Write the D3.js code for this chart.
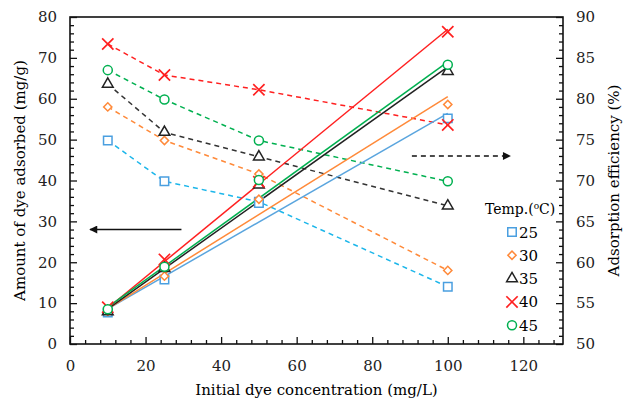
<!DOCTYPE html>
<html>
<head>
<meta charset="utf-8">
<script src="https://cdn.jsdelivr.net/npm/d3@7"></script>
<style>
  body { margin: 0; background: #fff; }
</style>
</head>
<body>
<div id="chart"></div>
<script>
// Initial concentrations (mg/L)
const conc = [10, 25, 50, 100];
const temps = ["25", "30", "35", "40", "45"];

// Adsorption efficiency (%) - right axis, dashed lines
const eff25 = [74.9, 69.9, 67.4, 57.0];
const eff30 = [79.0, 74.9, 70.8, 59.0];
const eff35 = [81.8, 75.9, 72.9, 66.9];
const eff40 = [86.7, 82.9, 81.1, 76.8];
const eff45 = [83.5, 79.9, 74.9, 69.9];

// Amount adsorbed (mg/g) - left axis, markers
const q25 = [7.7, 15.8, 34.5, 55.2];
const q30 = [8.0, 16.6, 35.4, 58.6];
const q35 = [7.9, 18.5, 38.9, 66.7];
const q40 = [9.0, 20.7, 39.7, 76.4];
const q45 = [8.5, 18.9, 40.1, 68.3];

// Solid fitted lines for amount adsorbed, values at x = 10 and x = 100
const fitX = [10, 100];
const fit25 = [8.6, 56.4];
const fit30 = [8.6, 60.5];
const fit35 = [8.6, 67.8];
const fit40 = [8.8, 77.0];
const fit45 = [9.0, 69.0];

const xTicks = [0, 20, 40, 60, 80, 100, 120];
const yLeftTicks = [0, 10, 20, 30, 40, 50, 60, 70, 80];
const yRightTicks = [50, 55, 60, 65, 70, 75, 80, 85, 90];

const series = [
  { t: temps[0], eff: eff25, q: q25, fit: fit25, sym: "square", c: "#4a9fe0", dash: "#1cb6ea", line: "#5aa5de" },
  { t: temps[1], eff: eff30, q: q30, fit: fit30, sym: "diamond", c: "#ff8a3a", dash: "#ff8a3a", line: "#ff8a3a" },
  { t: temps[2], eff: eff35, q: q35, fit: fit35, sym: "triangle", c: "#222", dash: "#333", line: "#222" },
  { t: temps[3], eff: eff40, q: q40, fit: fit40, sym: "cross", c: "#ff2020", dash: "#ff2020", line: "#ff2020" },
  { t: temps[4], eff: eff45, q: q45, fit: fit45, sym: "circle", c: "#00b050", dash: "#00b050", line: "#00b050" }
];

const W = 623, H = 402;
const margin = { top: 17, right: 60, bottom: 58, left: 70 };
const FONT = "'DejaVu Serif'";

const svg = d3.select("#chart").append("svg")
  .attr("width", W).attr("height", H)
  .attr("font-family", FONT);

const x = d3.scaleLinear().domain([0, 130.5]).range([margin.left, W - margin.right]);
const yL = d3.scaleLinear().domain([0, 80]).range([H - margin.bottom, margin.top]);
const yR = d3.scaleLinear().domain([50, 90]).range([H - margin.bottom, margin.top]);

// frame
svg.append("rect")
  .attr("x", margin.left).attr("y", margin.top)
  .attr("width", W - margin.right - margin.left)
  .attr("height", H - margin.bottom - margin.top)
  .attr("fill", "none").attr("stroke", "#111").attr("stroke-width", 1.6);

// axes with inward ticks
function styleAxis(g) {
  g.attr("font-family", FONT);
  g.select(".domain").remove();
  g.selectAll("line").attr("stroke", "#111").attr("stroke-width", 1.3);
  g.selectAll("text").style("font-size", "15px").style("font-family", FONT).attr("fill", "#222");
}

const xMinor = d3.range(0, 131, 4).filter(v => v % 20 !== 0);
svg.append("g").attr("transform", `translate(0,${H - margin.bottom})`)
  .call(d3.axisBottom(x).tickValues(xMinor).tickSize(-4).tickFormat(""))
  .call(styleAxis);
svg.append("g").attr("transform", `translate(0,${H - margin.bottom})`)
  .call(d3.axisBottom(x).tickValues(xTicks).tickSize(-7).tickPadding(16).tickFormat(d3.format("d")))
  .call(styleAxis);

const yMinor = d3.range(0, 81, 2).filter(v => v % 10 !== 0);
svg.append("g").attr("transform", `translate(${margin.left},0)`)
  .call(d3.axisLeft(yL).tickValues(yMinor).tickSize(-4).tickFormat(""))
  .call(styleAxis);
svg.append("g").attr("transform", `translate(${margin.left},0)`)
  .call(d3.axisLeft(yL).tickValues(yLeftTicks).tickSize(-7).tickPadding(13))
  .call(styleAxis);

const yRMinor = d3.range(50, 91, 1).filter(v => v % 5 !== 0);
svg.append("g").attr("transform", `translate(${W - margin.right},0)`)
  .call(d3.axisRight(yR).tickValues(yRMinor).tickSize(-4).tickFormat(""))
  .call(styleAxis);
svg.append("g").attr("transform", `translate(${W - margin.right},0)`)
  .call(d3.axisRight(yR).tickValues(yRightTicks).tickSize(-7).tickPadding(13))
  .call(styleAxis);

// axis titles
function title(sel) { return sel.style("font-size", "15px").style("font-family", FONT).attr("text-anchor", "middle"); }
svg.append("text")
  .attr("transform", `translate(25,${(margin.top + H - margin.bottom) / 2}) rotate(-90)`)
  .call(title).text("Amount of dye adsorbed (mg/g)");
svg.append("text")
  .attr("transform", `translate(619,${(margin.top + H - margin.bottom) / 2}) rotate(-90)`)
  .call(title).text("Adsorption efficiency (%)");
svg.append("text")
  .attr("x", (margin.left + W - margin.right) / 2).attr("y", 395)
  .call(title).text("Initial dye concentration (mg/L)");

// markers
const symType = {
  square: d3.symbolSquare, diamond: d3.symbolSquare, triangle: d3.symbolTriangle,
  cross: d3.symbolX, circle: d3.symbolCircle
};
const symSize = { square: 72, diamond: 34, triangle: 50, cross: 85, circle: 64 };
function marker(g, s, cx, cy) {
  g.append("path")
    .attr("d", d3.symbol().type(symType[s.sym]).size(symSize[s.sym])())
    .attr("transform", `translate(${cx},${cy})` + (s.sym === "diamond" ? " rotate(45)" : ""))
    .attr("fill", s.sym === "cross" ? "none" : "#fff")
    .attr("stroke", s.c).attr("stroke-width", s.sym === "cross" ? 1.7 : 1.5);
}

// dashed efficiency lines
const dashLine = d3.line().x((d, i) => x(conc[i])).y(d => yR(d));
series.forEach(s => {
  svg.append("path").attr("d", dashLine(s.eff))
    .attr("fill", "none").attr("stroke", s.dash)
    .attr("stroke-width", 1.5).attr("stroke-dasharray", "5,4");
});

// fitted solid lines
const fitLine = d3.line().x((d, i) => x(fitX[i])).y(d => yL(d));
series.forEach(s => {
  svg.append("path").attr("d", fitLine(s.fit))
    .attr("fill", "none").attr("stroke", s.line).attr("stroke-width", 1.5);
});

// markers on top
series.forEach(s => {
  const g = svg.append("g");
  s.eff.forEach((v, i) => marker(g, s, x(conc[i]), yR(v)));
  s.q.forEach((v, i) => marker(g, s, x(conc[i]), yL(v)));
});

// direction arrows
const defs = svg.append("defs");
defs.append("marker").attr("id", "head").attr("viewBox", "0 0 10 10")
  .attr("refX", 9).attr("refY", 5).attr("markerWidth", 10).attr("markerHeight", 8)
  .attr("markerUnits", "userSpaceOnUse").attr("orient", "auto")
  .append("path").attr("d", "M0,0 L10,5 L0,10 Z").attr("fill", "#111");

svg.append("line")
  .attr("x1", x(29.5)).attr("x2", x(5.3)).attr("y1", yL(28)).attr("y2", yL(28))
  .attr("stroke", "#111").attr("stroke-width", 1.5).attr("marker-end", "url(#head)");
svg.append("line")
  .attr("x1", x(90.5)).attr("x2", x(116.5)).attr("y1", yR(73)).attr("y2", yR(73))
  .attr("stroke", "#111").attr("stroke-width", 1.5).attr("stroke-dasharray", "5,4")
  .attr("marker-end", "url(#head)");

// legend
const leg = svg.append("g");
const legTitle = leg.append("text").attr("x", 485).attr("y", 214)
  .style("font-size", "14px").style("font-family", FONT);
legTitle.append("tspan").text("Temp.(");
legTitle.append("tspan").attr("dy", -5).style("font-size", "9px").text("o");
legTitle.append("tspan").attr("dy", 5).text("C)");
series.forEach((s, i) => {
  const cy = 232 + i * 23.3;
  marker(leg, s, 512, cy);
  leg.append("text").attr("x", 519).attr("y", cy + 5.5)
    .style("font-size", "15px").style("font-family", FONT).text(s.t);
});
</script>
</body>
</html>
